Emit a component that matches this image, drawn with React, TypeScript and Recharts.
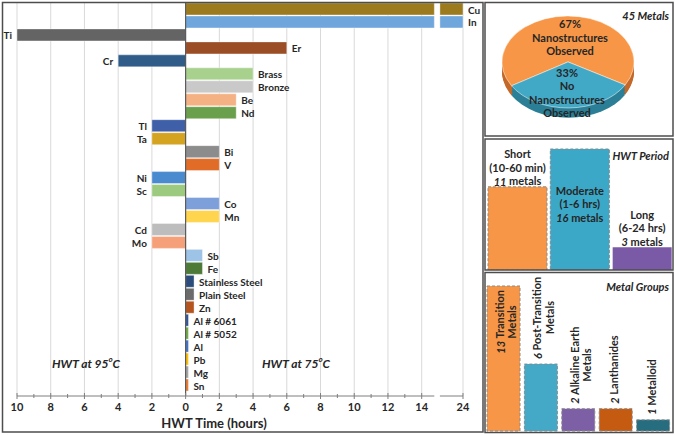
import React from 'react'
import { BarChart, Bar, XAxis, YAxis, Cell, LabelList, ReferenceLine, CartesianGrid, PieChart, Pie } from 'recharts'

const FONT = "Lato, 'Open Sans', sans-serif"
const INK = '#262626'

// main chart: hours of hot water treatment, negative = HWT at 95°C, positive = HWT at 75°C
const METALS = ['Cu', 'In', 'Ti', 'Er', 'Cr', 'Brass', 'Bronze', 'Be', 'Nd', 'Tl', 'Ta', 'Bi', 'V', 'Ni', 'Sc', 'Co', 'Mn', 'Cd', 'Mo', 'Sb', 'Fe', 'Stainless Steel', 'Plain Steel', 'Zn', 'Al # 6061', 'Al # 5052', 'Al', 'Pb', 'Mg', 'Sn']
const HOURS = [24, 24, -10, 6, -4, 4, 4, 3, 3, -2, -2, 2, 2, -2, -2, 2, 2, -2, -2, 1, 1, 0.5, 0.5, 0.5, 0.17, 0.17, 0.17, 0.17, 0.17, 0.17]
const METAL_COLORS = ['#9c7b1e', '#6fa6dc', '#646464', '#9b4d25', '#2f5c88', '#a9d18e', '#c9c9c9', '#f4b183', '#6a9f4c', '#3f5fa8', '#d4a420', '#8c8c8c', '#e06c28', '#4a8bd0', '#9ccb7f', '#7da0db', '#ffd54f', '#bdbdbd', '#f6a07a', '#9dc3e6', '#4e7a38', '#2c4d7c', '#6b6b6b', '#b5541e', '#2f5597', '#70ad47', '#4472c4', '#ffc000', '#a5a5a5', '#ed7d31']

// pie
const METAL_TOTAL = 45
const PIE_NAMES = ['Nanostructures Observed', 'No Nanostructures Observed']
const PIE_VALUES = [67, 33]
const PIE_COLORS = ['#f79646', '#41a8c6']
const PIE_SIDE = ['#c4692a', '#2b7f97']

// HWT period
const PERIODS = ['Short', 'Moderate', 'Long']
const PERIOD_RANGES = ['(10-60 min)', '(1-6 hrs)', '(6-24 hrs)']
const PERIOD_COUNTS = [11, 16, 3]
const PERIOD_COLORS = ['#f79646', '#3ba8c7', '#7a5aa6']

// metal groups
const GROUPS = ['Transition Metals', 'Post-Transition Metals', 'Alkaline Earth Metals', 'Lanthanides', 'Metalloid']
const GROUP_COUNTS = [13, 6, 2, 2, 1]
const GROUP_COLORS = ['#f79646', '#43a9c7', '#7d5fa5', '#c55a11', '#256d7f']

// broken axis: 24 h is drawn just past 14 h
const BREAK_FROM = 14.75
const BREAK_TO = 15.08
const TOP_HOUR = 24
const TOP_POS = 16.45
const toAxis = (h: number) => (h >= TOP_HOUR ? TOP_POS : h)

const X_TICKS = [...Array.from({ length: 25 }, (_, i) => i - 10), TOP_POS]
const GRID = [-10, -8, -6, -4, -2, 2, 4, 6, 8, 10, 12, 14, TOP_POS]

const MAIN_W = 483
const MAIN_H = 432
const MARGIN = { top: 3, right: 20, bottom: 6, left: 17 }
const PPU = (MAIN_W - MARGIN.left - MARGIN.right) / (TOP_POS + 10)
const AXIS_DASH = `${(BREAK_FROM + 10) * PPU} ${(BREAK_TO - BREAK_FROM) * PPU} 2000`

const rows = METALS.map((name, i) => {
  const v = toAxis(HOURS[i])
  const broken = v > BREAK_FROM
  return {
    name,
    broken,
    main: broken ? BREAK_FROM : v,
    gap: broken ? BREAK_TO - BREAK_FROM : 0,
    tail: broken ? v - BREAK_TO : 0,
  }
})

function gridXs({ xAxis, offset }: any) {
  if (xAxis && typeof xAxis.scale === 'function') return GRID.map((v) => xAxis.scale(v))
  const left = offset?.left ?? MARGIN.left
  return GRID.map((v) => left + (v + 10) * PPU)
}

let ctx: CanvasRenderingContext2D | null = null
function textWidth(s: string, size: number) {
  if (!ctx) ctx = document.createElement('canvas').getContext('2d')
  if (!ctx) return s.length * size * 0.5
  ctx.font = `bold ${size}px ${FONT}`
  return ctx.measureText(s).width
}

function HourTick(props: any) {
  const { x, y, payload } = props
  const v = payload.value
  const major = v === TOP_POS || v % 2 === 0
  const label = v === TOP_POS ? String(TOP_HOUR) : String(Math.abs(v))
  return (
    <g>
      <line x1={x} x2={x} y1={y - (major ? 3 : 2)} y2={y + (major ? 3 : 2)} stroke="#7f7f7f" />
      {major && (
        <text x={x} y={y + 15} textAnchor="middle" fontFamily={FONT} fontWeight="bold" fontSize={11} fill={INK}>
          {label}
        </text>
      )}
    </g>
  )
}

const metalLabel = (series: 'main' | 'tail') => (props: any) => {
  const { x, y, width, height, index } = props
  const row = rows[index]
  if (!row || (series === 'tail') !== row.broken) return null
  const left = Math.min(x, x + width)
  const right = Math.max(x, x + width)
  const neg = HOURS[index] < 0
  return (
    <text x={neg ? left - 5 : right + 5} y={y + height / 2 + 0.5} textAnchor={neg ? 'end' : 'start'} dominantBaseline="central" fontFamily={FONT} fontWeight="bold" fontSize={10} fill={INK}>
      {row.name}
    </text>
  )
}

function periodLabel(props: any) {
  const { x, y, width, index } = props
  const cx = x + width / 2
  const inside = PERIOD_COUNTS[index] === Math.max(...PERIOD_COUNTS)
  const first = inside ? y + 41 : y - 6 - 27
  const t = { x: cx, textAnchor: 'middle' as const, dominantBaseline: 'central' as const, fontFamily: FONT, fontWeight: 'bold', fontSize: 11, fill: INK }
  return (
    <g>
      <text {...t} y={first}>{PERIODS[index]}</text>
      <text {...t} y={first + 13.5}>{PERIOD_RANGES[index]}</text>
      <text {...t} y={first + 27}>
        <tspan fontStyle="italic">{PERIOD_COUNTS[index]}</tspan> metals
      </text>
    </g>
  )
}

function groupLabel(props: any) {
  const { x, y, width, index } = props
  const name = GROUPS[index]
  const count = GROUP_COUNTS[index]
  const hasMetals = name.endsWith(' Metals')
  const head = hasMetals ? name.slice(0, -7) : name
  const fs = 11
  const w1 = textWidth(`${count} ${head}`, fs)
  const inside = count === Math.max(...GROUP_COUNTS)
  const cx = x + width / 2
  const l1x = cx + (hasMetals ? -4 : -2)
  const l2x = cx + 8.5
  const y1 = inside ? y + 4 : y - 5
  const mid = inside ? y1 + w1 / 2 : y1 - w1 / 2
  const t = { dominantBaseline: 'central' as const, fontFamily: FONT, fontWeight: 'bold', fontSize: fs, fill: INK }
  return (
    <g>
      <text {...t} x={l1x} y={y1} textAnchor={inside ? 'end' : 'start'} transform={`rotate(-90 ${l1x} ${y1})`}>
        <tspan fontStyle="italic">{count}</tspan> {head}
      </text>
      {hasMetals && (
        <text {...t} x={l2x} y={mid} textAnchor="middle" transform={`rotate(-90 ${l2x} ${mid})`}>
          Metals
        </text>
      )}
    </g>
  )
}

const PIE_SQUASH = 0.697
const PIE_H = 192
const PIE_CY = 86
const DEPTHS = [14, 12, 10, 8, 6, 4, 2]

export default function App() {
  const pieData = PIE_NAMES.map((name, i) => ({ name, value: PIE_VALUES[i] }))
  const periodData = PERIODS.map((name, i) => ({ name, value: PERIOD_COUNTS[i] }))
  const groupData = GROUPS.map((name, i) => ({ name, value: GROUP_COUNTS[i] }))
  const txt = { fontFamily: FONT, fontWeight: 'bold', fill: INK, textAnchor: 'middle' as const, dominantBaseline: 'central' as const }

  return (
    <div style={{ position: 'absolute', left: 0, top: 0, width: 675, height: 435, background: '#fff' }}>
      <div style={{ position: 'absolute', left: 0, top: 0 }}>
        <BarChart layout="vertical" width={MAIN_W} height={MAIN_H} data={rows} margin={MARGIN} barSize={12}>
          <CartesianGrid horizontal={false} stroke="#d9d9d9" verticalCoordinatesGenerator={gridXs} />
          <XAxis
            type="number"
            domain={[-10, TOP_POS]}
            ticks={X_TICKS}
            interval={0}
            tick={<HourTick />}
            tickLine={false}
            tickSize={0}
            tickMargin={0}
            height={30}
            axisLine={{ stroke: '#7f7f7f', strokeDasharray: AXIS_DASH }}
          />
          <YAxis type="category" dataKey="name" hide padding={{ top: 0, bottom: 4 }} />
          <Bar dataKey="main" stackId="h" isAnimationActive={false} stroke="#ffffff" strokeOpacity={0.5} strokeWidth={0.75}>
            {rows.map((_, i) => (
              <Cell key={i} fill={METAL_COLORS[i]} />
            ))}
            <LabelList dataKey="main" content={metalLabel('main')} />
          </Bar>
          <Bar dataKey="gap" stackId="h" isAnimationActive={false} fill="none" />
          <Bar dataKey="tail" stackId="h" isAnimationActive={false} stroke="#ffffff" strokeOpacity={0.5} strokeWidth={0.75}>
            {rows.map((_, i) => (
              <Cell key={i} fill={METAL_COLORS[i]} />
            ))}
            <LabelList dataKey="tail" content={metalLabel('tail')} />
          </Bar>
          <ReferenceLine x={0} stroke="#595959" strokeWidth={1.2} />
        </BarChart>
      </div>

      <div style={{ position: 'absolute', left: 485, top: 2, width: 188, height: PIE_H, transform: `scaleY(${PIE_SQUASH})`, transformOrigin: 'top left' }}>
        <PieChart width={188} height={PIE_H} margin={{ top: 0, right: 0, bottom: 0, left: 0 }}>
          {DEPTHS.map((d) => (
            <Pie key={d} data={pieData} dataKey="value" cx={83} cy={PIE_CY + d} outerRadius={66} startAngle={330} endAngle={690} stroke="none" isAnimationActive={false}>
              {pieData.map((_, i) => (
                <Cell key={i} fill={PIE_SIDE[i]} />
              ))}
            </Pie>
          ))}
          <Pie data={pieData} dataKey="value" cx={83} cy={PIE_CY} outerRadius={66} startAngle={330} endAngle={690} stroke="#ffffff" strokeWidth={0.6} isAnimationActive={false}>
            {pieData.map((_, i) => (
              <Cell key={i} fill={PIE_COLORS[i]} />
            ))}
          </Pie>
        </PieChart>
      </div>

      <div style={{ position: 'absolute', left: 485, top: 139 }}>
        <BarChart width={188} height={131} data={periodData} margin={{ top: 10, right: 0, bottom: 0, left: 1 }} barSize={59}>
          <XAxis dataKey="name" hide />
          <YAxis hide domain={[0, 16]} />
          <Bar dataKey="value" isAnimationActive={false}>
            {periodData.map((_, i) => (
              <Cell key={i} fill={PERIOD_COLORS[i]} stroke={i < 2 ? '#8a8a8a' : 'none'} strokeDasharray="3 2" />
            ))}
            <LabelList dataKey="value" content={periodLabel} />
          </Bar>
        </BarChart>
      </div>

      <div style={{ position: 'absolute', left: 485, top: 272 }}>
        <BarChart width={188} height={161} data={groupData} margin={{ top: 14, right: 1, bottom: 2, left: 0 }} barSize={33}>
          <XAxis dataKey="name" hide />
          <YAxis hide domain={[0, 13]} />
          <Bar dataKey="value" isAnimationActive={false}>
            {groupData.map((_, i) => (
              <Cell key={i} fill={GROUP_COLORS[i]} stroke="#8a8a8a" strokeDasharray="3 2" />
            ))}
            <LabelList dataKey="value" content={groupLabel} />
          </Bar>
        </BarChart>
      </div>

      <svg width={675} height={435} style={{ position: 'absolute', left: 0, top: 0, pointerEvents: 'none' }}>
        <g fill="none" stroke="#4d4d4d" strokeWidth={1.5}>
          <rect x={2.5} y={2.5} width={480.5} height={429.5} />
          <rect x={485} y={2.5} width={188} height={133.5} />
          <rect x={485} y={139} width={188} height={131} />
          <rect x={485} y={272.5} width={188} height={160} />
        </g>

        <text {...txt} x={86} y={363} fontSize={12} fontStyle="italic">
          HWT at 95<tspan fontSize={8} dy={-4}>o</tspan>
          <tspan dy={4}>C</tspan>
        </text>
        <text {...txt} x={296} y={363} fontSize={12} fontStyle="italic">
          HWT at 75<tspan fontSize={8} dy={-4}>o</tspan>
          <tspan dy={4}>C</tspan>
        </text>
        <text {...txt} x={214} y={423} fontSize={13}>
          HWT Time (hours)
        </text>

        <text {...txt} x={669} y={15} fontSize={11} fontStyle="italic" textAnchor="end">
          {METAL_TOTAL} Metals
        </text>
        <text {...txt} x={570} y={23} fontSize={11}>{PIE_VALUES[0]}%</text>
        <text {...txt} x={570} y={37} fontSize={11}>Nanostructures</text>
        <text {...txt} x={570} y={50.5} fontSize={11}>Observed</text>
        <text {...txt} x={567} y={72} fontSize={11}>{PIE_VALUES[1]}%</text>
        <text {...txt} x={567} y={85.5} fontSize={11}>No</text>
        <text {...txt} x={567} y={99} fontSize={11}>Nanostructures</text>
        <text {...txt} x={567} y={112.5} fontSize={11}>Observed</text>

        <text {...txt} x={669} y={155} fontSize={11} fontStyle="italic" textAnchor="end">HWT Period</text>
        <text {...txt} x={669} y={286} fontSize={11} fontStyle="italic" textAnchor="end">Metal Groups</text>
      </svg>
    </div>
  )
}
